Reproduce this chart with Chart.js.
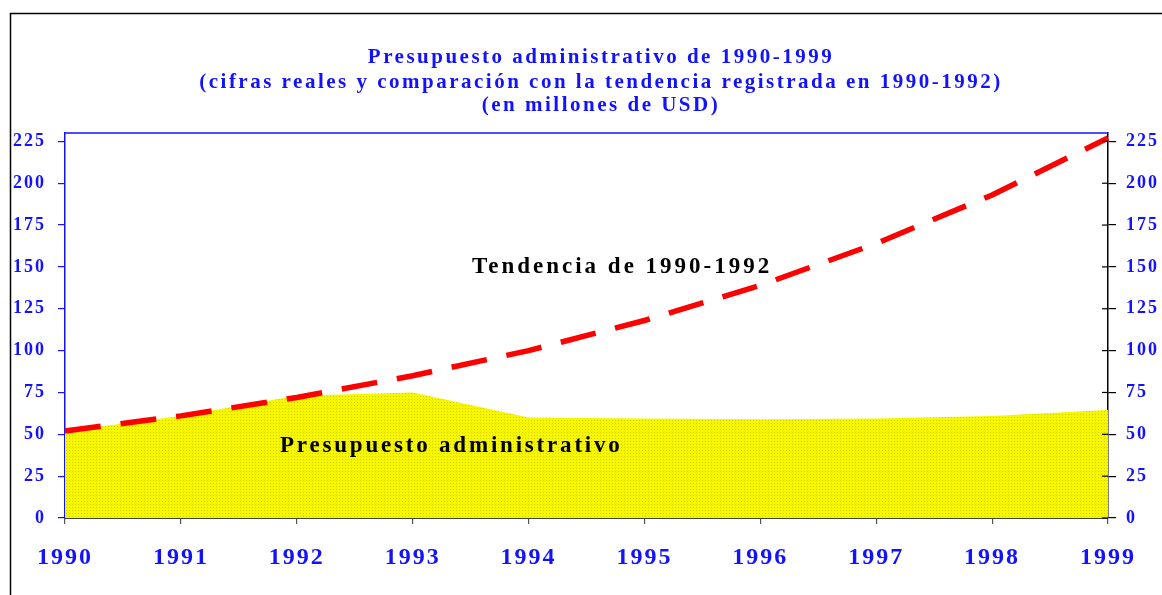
<!DOCTYPE html>
<html>
<head>
<meta charset="utf-8">
<script src="https://cdn.jsdelivr.net/npm/chart.js@4.4.0/dist/chart.umd.min.js"></script>
<style>
  body { margin: 0; background: #fff; }
  canvas { display: block; }
</style>
</head>
<body>
<canvas id="budgetChart" width="1162" height="595"></canvas>
<script>
// data
var years = ['1990', '1991', '1992', '1993', '1994', '1995', '1996', '1997', '1998', '1999'];
var presupuesto = [52, 61, 73, 75, 60, 59.5, 59, 59.5, 61, 64.5];
var tendencia = [52, 61, 72, 85, 100, 118, 139, 164, 193, 227];
var yTicks = [0, 25, 50, 75, 100, 125, 150, 175, 200, 225];

var tituloLineas = [
  'Presupuesto administrativo de 1990-1999',
  '(cifras reales y comparación con la tendencia registrada en 1990-1992)',
  '(en millones de USD)'
];

var azul = '#1212ff';
var serif = '"Liberation Serif", "Times New Roman", serif';

// dotted yellow fill like the original
function yellowPattern() {
  var c = document.createElement('canvas');
  c.width = 3; c.height = 3;
  var g = c.getContext('2d');
  g.fillStyle = '#f6f600';
  g.fillRect(0, 0, 3, 3);
  g.fillStyle = '#d2d200';
  g.fillRect(0, 0, 1, 1);
  return g.createPattern(c, 'repeat');
}

function spacedText(ctx, txt, x, y, spacing) {
  ctx.letterSpacing = spacing + 'px';
  ctx.fillText(txt, x, y);
  ctx.letterSpacing = '0px';
}

var decorPlugin = {
  id: 'decor',
  beforeDraw: function(chart) {
    var ctx = chart.ctx;
    ctx.save();
    ctx.fillStyle = '#fff';
    ctx.fillRect(0, 0, chart.width, chart.height);
    // outer frame
    ctx.strokeStyle = '#000';
    ctx.lineWidth = 1.5;
    ctx.beginPath();
    ctx.moveTo(10.5, chart.height);
    ctx.lineTo(10.5, 13.5);
    ctx.lineTo(chart.width, 13.5);
    ctx.stroke();
    // title
    ctx.fillStyle = azul;
    ctx.textAlign = 'center';
    ctx.textBaseline = 'middle';
    ctx.font = 'bold 21px ' + serif;
    var ys = [58, 83, 106];
    for (var i = 0; i < tituloLineas.length; i++) {
      spacedText(ctx, tituloLineas[i], 601, ys[i], 2.5);
    }
    ctx.restore();
    // tick labels of the axes are spaced out too
    ctx.letterSpacing = '2px';
  },
  afterDraw: function(chart) {
    var ctx = chart.ctx;
    ctx.letterSpacing = '0px';
    var a = chart.chartArea;
    var y2 = chart.scales.y2;
    ctx.save();
    // top border of plot
    ctx.strokeStyle = azul;
    ctx.lineWidth = 1.5;
    ctx.beginPath();
    ctx.moveTo(a.left, a.top);
    ctx.lineTo(a.right, a.top);
    ctx.stroke();
    // right ticks cross the axis
    ctx.strokeStyle = '#000';
    ctx.lineWidth = 1.2;
    yTicks.forEach(function(v) {
      var py = y2.getPixelForValue(v);
      ctx.beginPath();
      ctx.moveTo(a.right - 6, py);
      ctx.lineTo(a.right, py);
      ctx.stroke();
    });
    // in-plot labels
    ctx.fillStyle = '#000';
    ctx.textAlign = 'left';
    ctx.textBaseline = 'middle';
    ctx.font = 'bold 23px ' + serif;
    spacedText(ctx, 'Tendencia de 1990-1992', 472, 267, 3);
    spacedText(ctx, 'Presupuesto administrativo', 280, 446, 2.8);
    ctx.restore();
  }
};

new Chart(document.getElementById('budgetChart'), {
  type: 'line',
  data: {
    labels: years,
    datasets: [
      {
        label: 'Presupuesto administrativo',
        data: presupuesto,
        fill: 'origin',
        backgroundColor: yellowPattern(),
        borderWidth: 0,
        pointRadius: 0,
        tension: 0,
        order: 2
      },
      {
        label: 'Tendencia de 1990-1992',
        data: tendencia,
        fill: false,
        borderColor: '#ff0000',
        borderWidth: 5.5,
        borderDash: [36, 20],
        borderCapStyle: 'butt',
        pointRadius: 0,
        tension: 0,
        order: 1
      }
    ]
  },
  options: {
    responsive: false,
    animation: false,
    layout: { padding: { top: 133, left: 0, right: 0, bottom: 0 } },
    plugins: {
      legend: { display: false },
      title: { display: false },
      tooltip: { enabled: false }
    },
    scales: {
      x: {
        offset: false,
        grid: { drawOnChartArea: false, tickLength: 6, color: '#555', lineWidth: 1.2 },
        border: { color: '#444', width: 2 },
        ticks: {
          color: azul,
          padding: 19,
          maxRotation: 0,
          font: { family: serif, size: 24, weight: 'bold' }
        },
        afterFit: function(s) { s.height = 77; }
      },
      y: {
        position: 'left',
        min: 0,
        max: 230,
        afterBuildTicks: function(s) { s.ticks = yTicks.map(function(v) { return { value: v }; }); },
        grid: { drawOnChartArea: false, tickLength: 7, color: azul, lineWidth: 1.2 },
        border: { color: azul, width: 1.5 },
        ticks: {
          color: azul,
          padding: 12,
          font: { family: serif, size: 18, weight: 'bold' }
        },
        afterFit: function(s) { s.width = 65; }
      },
      y2: {
        position: 'right',
        min: 0,
        max: 230,
        afterBuildTicks: function(s) { s.ticks = yTicks.map(function(v) { return { value: v }; }); },
        grid: { drawOnChartArea: false, tickLength: 8, color: '#000', lineWidth: 1.2 },
        border: { color: '#000', width: 1.5 },
        ticks: {
          color: azul,
          padding: 10,
          font: { family: serif, size: 18, weight: 'bold' }
        },
        afterFit: function(s) { s.width = 54; }
      }
    }
  },
  plugins: [decorPlugin]
});
</script>
</body>
</html>
